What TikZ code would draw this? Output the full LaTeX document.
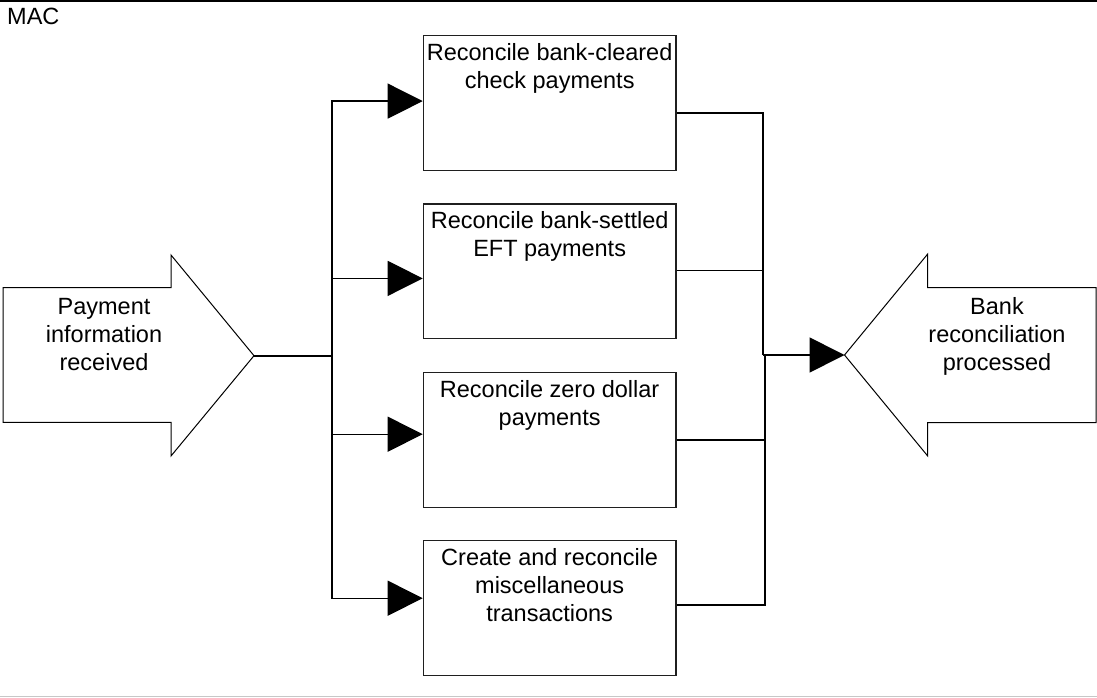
\documentclass[tikz,border=0pt]{standalone}
\usepackage{fontspec}
\setmainfont{Liberation Sans}
\usetikzlibrary{arrows.meta}

% fixed-size process box with its text set near the top
\newcommand{\steptext}[1]{\parbox[c][134.5pt][t]{252.6pt}{\centering\rule{0pt}{25pt}#1}}

\begin{document}
\begin{tikzpicture}[x=1pt,y=-1pt,
  every node/.style={font=\fontsize{23.5}{28}\selectfont},
  stepbox/.style={draw=black!88, line width=1.3pt, inner sep=0pt, anchor=north west},
  endshape/.style={draw=black, line width=1pt, fill=white, line join=miter},
  endtext/.style={anchor=north, inner sep=0pt, align=center},
  link/.style={draw=black, line width=1.2pt},
  trunk/.style={draw=black, line width=1.7pt},
  tip/.style={-{Triangle[length=35pt,width=35pt]}}
]
\useasboundingbox (0,0) rectangle (1097,698);

% frame lines
\draw[line width=1.5pt] (0,1) -- (1097,1);
\draw[black!22, line width=1.2pt] (0,696.5) -- (1097,696.5);
\node[anchor=base west, inner sep=0pt] (mac) at (7,25) {MAC};

% incoming event arrow
\draw[endshape] (3,287.7) -- (171,287.7) -- (171,255) -- (254,355.7)
  -- (171,456) -- (171,422.3) -- (3,422.3) -- cycle;
\coordinate (intip) at (254,355.7);
\node[endtext] (intext) at (104,289) {\rule{0pt}{25pt}Payment\\information\\received};

% outgoing result arrow
\draw[endshape] (1096,287.7) -- (927.7,287.7) -- (927.7,254) -- (844.5,355)
  -- (927.7,456) -- (927.7,422.7) -- (1096,422.7) -- cycle;
\coordinate (outtip) at (844.5,355);
\node[endtext] (outtext) at (997,289) {\rule{0pt}{25pt}Bank\\reconciliation\\processed};

% process steps
\node[stepbox] (b1) at (422.7,35)    {\steptext{Reconcile bank-cleared\\check payments}};
\node[stepbox] (b2) at (422.7,203.3) {\steptext{Reconcile bank-settled\\EFT payments}};
\node[stepbox] (b3) at (422.7,372)   {\steptext{Reconcile zero dollar\\payments}};
\node[stepbox] (b4) at (422.7,540)   {\steptext{Create and reconcile\\miscellaneous\\transactions}};

% branching into the steps
\coordinate (split) at (332,355.7);
\draw[trunk] (intip) -- (split);
\draw[link,tip] (split) |- ([yshift=1.8pt]b1.west);
\draw[link,tip] (split) |- ([yshift=-7.2pt]b2.west);
\draw[link,tip] (split) |- ([yshift=5.7pt]b3.west);
\draw[link,tip] (split) |- ([yshift=9.7pt]b4.west);

% merging the results
\coordinate (merge) at (763,355);
\coordinate (mergelow) at (765,355);
\draw[link] ([yshift=-10.2pt]b1.east) -| (merge);
\draw[link] ([yshift=0.5pt]b2.east) -| (merge);
\draw[link] (b3.east) -| (mergelow);
\draw[link] ([yshift=3pt]b4.east) -| (mergelow);
\draw[trunk,tip] (merge) -- (outtip);
\end{tikzpicture}
\end{document}
